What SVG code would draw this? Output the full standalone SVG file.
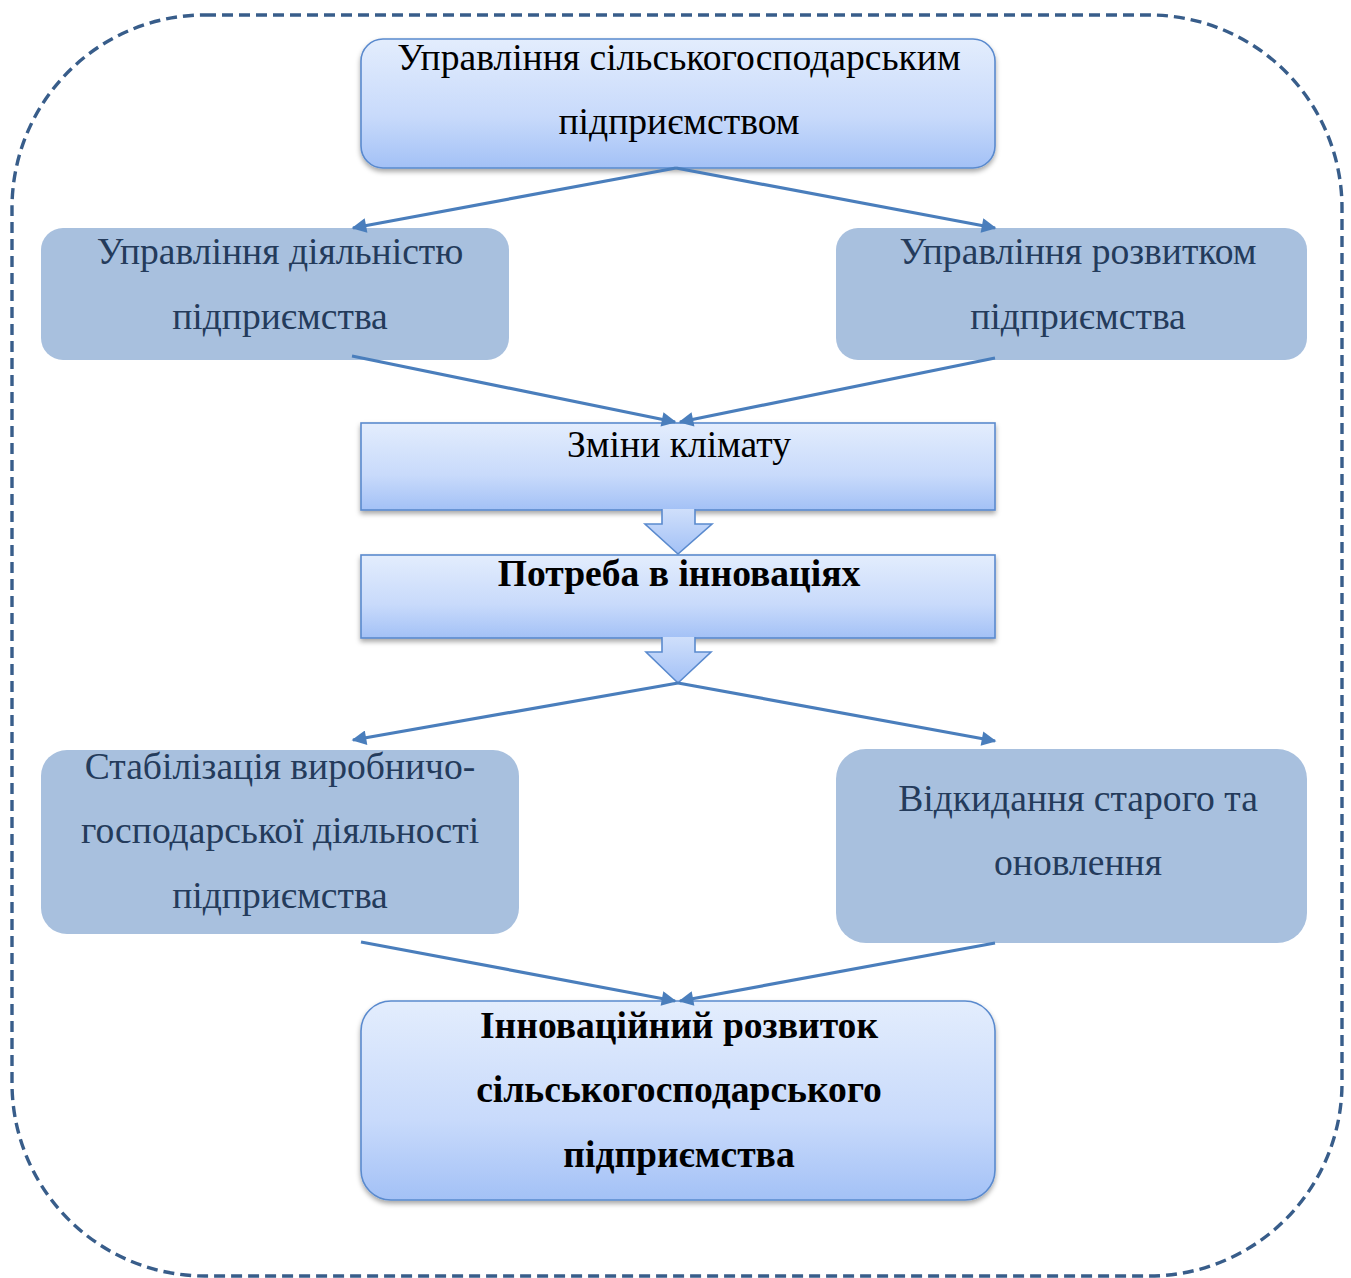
<svg xmlns="http://www.w3.org/2000/svg" width="1351" height="1278" viewBox="0 0 1351 1278">
<defs>
<style>
.t{font-family:"Liberation Serif","Times New Roman",serif;font-size:37.6px;text-anchor:middle;}
.b{font-weight:bold;}
.ink{fill:#000;}
.slate{fill:#243b5b;}
.blue{fill:url(#gBlue);stroke:#5a8ace;stroke-width:1.6;}
.gray{fill:#a8c0de;}
.conn{stroke:#4a7ebc;stroke-width:3.2;fill:none;marker-end:url(#ah);}
.blk{fill:url(#gArrow);stroke:#5a8ace;stroke-width:1.6;stroke-linejoin:miter;}
</style>
<linearGradient id="gBlue" x1="0" y1="0" x2="0" y2="1">
<stop offset="0" stop-color="#e3edfd"/>
<stop offset="0.6" stop-color="#c8dafb"/>
<stop offset="1" stop-color="#a3c1f6"/>
</linearGradient>
<linearGradient id="gArrow" x1="0" y1="0" x2="0" y2="1">
<stop offset="0" stop-color="#cfdffb"/>
<stop offset="1" stop-color="#a3c1f6"/>
</linearGradient>
<filter id="sh" x="-5%" y="-10%" width="110%" height="130%">
<feDropShadow dx="0" dy="3" stdDeviation="2.5" flood-color="#000" flood-opacity="0.35"/>
</filter>
<marker id="ah" viewBox="0 0 10 10" refX="9" refY="5" markerWidth="5.3" markerHeight="4.6" orient="auto" markerUnits="strokeWidth">
<path d="M0,0 L10,5 L0,10 Z" fill="#4a7ebc"/>
</marker>
</defs>
<rect id="frame" x="12" y="15" width="1330" height="1261" rx="193" ry="193" fill="none" stroke="#385d8a" stroke-width="3.4" stroke-dasharray="11,6"/>
<g id="n-top">
<rect class="blue" x="361" y="39" width="634" height="129" rx="22" filter="url(#sh)"/>
<text class="t ink" x="679" y="70">Управління сільськогосподарським</text>
<text class="t ink" x="679" y="134">підприємством</text>
</g>
<g id="n-activity">
<rect class="gray" x="41" y="228" width="468" height="132" rx="22"/>
<text class="t slate" x="280" y="264">Управління діяльністю</text>
<text class="t slate" x="280" y="329">підприємства</text>
</g>
<g id="n-development">
<rect class="gray" x="836" y="228" width="471" height="132" rx="22"/>
<text class="t slate" x="1078" y="264">Управління розвитком</text>
<text class="t slate" x="1078" y="329">підприємства</text>
</g>
<g id="n-climate">
<rect class="blue" x="361" y="423" width="634" height="87" filter="url(#sh)"/>
<text class="t ink" x="679" y="457">Зміни клімату</text>
</g>
<g id="blk1">
<path class="blk" d="M662,509 L662,524 L645,524 L678,554 L712,524 L695,524 L695,509"/>
</g>
<g id="n-need">
<rect class="blue" x="361" y="555" width="634" height="83" filter="url(#sh)"/>
<text class="t b ink" x="679" y="586">Потреба в інноваціях</text>
</g>
<g id="blk2">
<path class="blk" d="M662,637 L662,652 L646,652 L678,683 L711,652 L695,652 L695,637"/>
</g>
<g id="n-stab">
<rect class="gray" x="41" y="750" width="478" height="184" rx="26"/>
<text class="t slate" x="280" y="779">Стабілізація виробничо-</text>
<text class="t slate" x="280" y="843">господарської діяльності</text>
<text class="t slate" x="280" y="908">підприємства</text>
</g>
<g id="n-renew">
<rect class="gray" x="836" y="749" width="471" height="194" rx="30"/>
<text class="t slate" x="1078" y="811">Відкидання старого та</text>
<text class="t slate" x="1078" y="875">оновлення</text>
</g>
<g id="n-result">
<rect class="blue" x="361" y="1001" width="634" height="199" rx="30" filter="url(#sh)"/>
<text class="t b ink" x="679" y="1038">Інноваційний розвиток</text>
<text class="t b ink" x="679" y="1102">сільськогосподарського</text>
<text class="t b ink" x="679" y="1167">підприємства</text>
</g>
<g id="connectors">
<line class="conn" x1="676" y1="168" x2="353" y2="228"/>
<line class="conn" x1="676" y1="168" x2="995" y2="228"/>
<line class="conn" x1="352" y1="356" x2="675" y2="422"/>
<line class="conn" x1="995" y1="358" x2="680" y2="422"/>
<line class="conn" x1="678" y1="683" x2="353" y2="740"/>
<line class="conn" x1="678" y1="683" x2="995" y2="741"/>
<line class="conn" x1="361" y1="942" x2="675" y2="1001"/>
<line class="conn" x1="995" y1="943" x2="680" y2="1001"/>
</g>
</svg>
